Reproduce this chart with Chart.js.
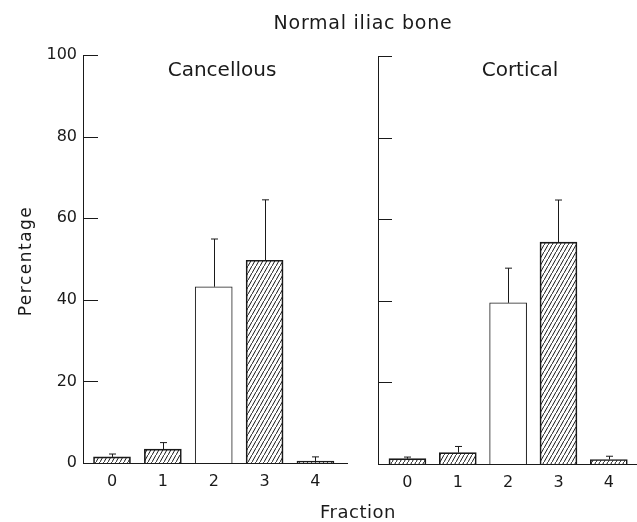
<!DOCTYPE html>
<html>
<head>
<meta charset="utf-8">
<script src="https://cdn.jsdelivr.net/npm/chart.js@4.4.1/dist/chart.umd.min.js"></script>
<style>
  html, body { margin: 0; padding: 0; background: #fff; }
  #wrap { position: relative; width: 637px; height: 522px; }
  #wrap canvas { position: absolute; left: 0; top: 0; }
</style>
</head>
<body>
<div id="wrap">
  <canvas id="left" width="637" height="522"></canvas>
  <canvas id="right" width="637" height="522"></canvas>
</div>
<script>
// data
const fractions = [0, 1, 2, 3, 4];
const yTicks = [0, 20, 40, 60, 80, 100];
const cancellous = [1.5, 3.4, 43.2, 49.7, 0.5];
const cancellousSD = [0.7, 1.6, 11.7, 14.8, 1.0];
const cortical = [1.3, 2.8, 39.5, 54.4, 1.1];
const corticalSD = [0.4, 1.5, 8.5, 10.3, 0.8];

const INK = '#1a1a1a';
const FONT = '"DejaVu Sans", sans-serif';

function hatch(ctx) {
  const c = document.createElement('canvas');
  c.width = 4; c.height = 7;
  const g = c.getContext('2d');
  g.strokeStyle = INK;
  g.lineWidth = 1;
  g.beginPath();
  g.moveTo(-1, 7 + 7 / 4);
  g.lineTo(5, -7 / 4);
  g.stroke();
  return ctx.createPattern(c, 'repeat');
}

// error bars, inward y ticks, free text
const panelDecor = {
  id: 'panelDecor',
  afterDatasetsDraw(chart, args, opts) {
    const ctx = chart.ctx;
    const y = chart.scales.y;
    const left = chart.chartArea.left;
    ctx.save();
    ctx.strokeStyle = INK;
    ctx.lineWidth = 1;
    yTicks.forEach(v => {
      const py = Math.round(y.getPixelForValue(v)) + 0.5;
      ctx.beginPath();
      ctx.moveTo(left, py);
      ctx.lineTo(left + opts.tickLen, py);
      ctx.stroke();
    });
    chart.getDatasetMeta(0).data.forEach((bar, i) => {
      const top = y.getPixelForValue(opts.vals[i] + opts.sd[i]);
      const x = Math.round(bar.x) + 0.5;
      ctx.beginPath();
      ctx.moveTo(x, bar.y);
      ctx.lineTo(x, top);
      ctx.moveTo(x - 3.5, top);
      ctx.lineTo(x + 3.5, top);
      ctx.stroke();
    });
    ctx.restore();
  },
  afterDraw(chart, args, opts) {
    const ctx = chart.ctx;
    (opts.texts || []).forEach(t => {
      ctx.save();
      ctx.fillStyle = INK;
      ctx.font = t.size + 'px ' + FONT;
      ctx.letterSpacing = (t.ls || 0) + 'px';
      ctx.textAlign = 'center';
      ctx.textBaseline = t.rotate ? 'middle' : 'alphabetic';
      ctx.translate(t.x, t.y);
      if (t.rotate) ctx.rotate(-Math.PI / 2);
      ctx.fillText(t.text, 0, 0);
      ctx.restore();
    });
  }
};

function panel(id, vals, sd, cfg) {
  const canvas = document.getElementById(id);
  const pattern = hatch(canvas.getContext('2d'));
  return new Chart(canvas, {
    type: 'bar',
    data: {
      datasets: [{
        data: fractions.map((f, i) => ({ x: f, y: vals[i] })),
        backgroundColor: fractions.map(f => f === 2 ? '#fff' : pattern),
        borderColor: INK,
        borderWidth: 1,
        barThickness: 37
      }]
    },
    options: {
      responsive: false,
      animation: false,
      devicePixelRatio: 1,
      layout: { padding: cfg.padding },
      plugins: {
        legend: { display: false },
        tooltip: { enabled: false },
        panelDecor: { vals, sd, tickLen: cfg.tickLen, texts: cfg.texts }
      },
      scales: {
        x: {
          type: 'linear',
          bounds: 'data',
          offset: false,
          min: cfg.xMin,
          max: cfg.xMax,
          afterBuildTicks: s => { s.ticks = fractions.map(v => ({ value: v })); },
          afterFit: s => { s.height = cfg.xHeight; },
          grid: { display: false, drawTicks: false },
          border: { color: INK, width: 1 },
          ticks: { color: INK, font: { family: FONT, size: 16 }, padding: 9, maxRotation: 0 }
        },
        y: {
          min: 0,
          max: 100,
          afterBuildTicks: s => { s.ticks = yTicks.map(v => ({ value: v })); },
          afterFit: s => { s.width = cfg.yWidth; },
          grid: { display: false, drawTicks: false },
          border: { color: INK, width: 1 },
          ticks: { display: cfg.yLabels, color: INK, font: { family: FONT, size: 16 }, padding: 6 }
        }
      }
    },
    plugins: [panelDecor]
  });
}

panel('left', cancellous, cancellousSD, {
  padding: { left: 0, top: 55, right: 290, bottom: 0 },
  xMin: -0.57, xMax: 4.62, xHeight: 59, yWidth: 83, yLabels: true, tickLen: 15,
  texts: [
    { text: 'Normal iliac bone', x: 363, y: 29, size: 19, ls: 0.75 },
    { text: 'Cancellous', x: 222, y: 76, size: 20 },
    { text: 'Percentage', x: 27, y: 261, size: 17, ls: 1.5, rotate: true },
    { text: 'Fraction', x: 358, y: 518, size: 18, ls: 0.5 }
  ]
});

panel('right', cortical, corticalSD, {
  padding: { left: 378, top: 56, right: 0, bottom: 0 },
  xMin: -0.585, xMax: 4.56, xHeight: 58, yWidth: 0, yLabels: false, tickLen: 14,
  texts: [
    { text: 'Cortical', x: 520, y: 76, size: 20 }
  ]
});
</script>
</body>
</html>
